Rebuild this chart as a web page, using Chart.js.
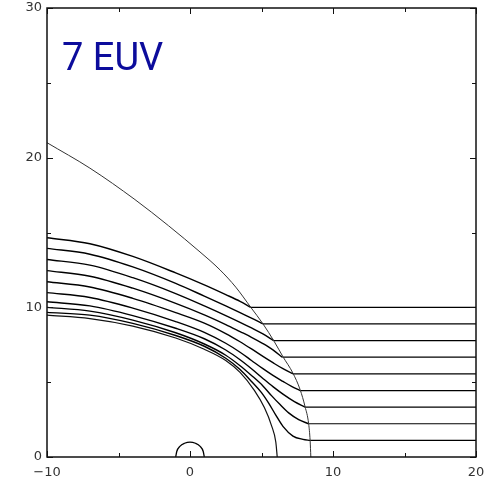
<!DOCTYPE html>
<html>
<head>
<meta charset="utf-8">
<script src="https://cdn.jsdelivr.net/npm/chart.js@4.4.1/dist/chart.umd.min.js"></script>
<style>
  html, body { margin: 0; padding: 0; background: #fff; }
</style>
</head>
<body>
<canvas id="fieldChart" width="485" height="485"></canvas>
<script>
// axis ranges and ticks
const xRange = [-10, 20];
const yRange = [0, 30];
const xTicks = [-10, 0, 10, 20];
const yTicks = [0, 10, 20, 30];
const xMinorTicks = [-5, 5, 15];
const yMinorTicks = [5, 15, 25];

// outer boundary
const outerBoundary = [[-10, 21.0], [-7, 19.3], [-3.85, 17.2], [-1.5, 15.45], [0.7, 13.7], [2.1, 12.5],
  [3.2, 11.35], [4.25, 10.0], [5.1, 8.9], [5.9, 7.7], [6.5, 6.7], [7.2, 5.6], [7.7, 4.5],
  [8.05, 3.35], [8.3, 2.2], [8.4, 1.1], [8.45, 0]];

// inner obstacle surface
const innerBoundary = [[-10, 9.48], [-7, 9.25], [-4, 8.75], [-1, 7.95], [1, 7.2], [2.5, 6.45],
  [3.5, 5.65], [4.5, 4.45], [5.2, 3.3], [5.7, 2.1], [6.0, 1.0], [6.1, 0]];

// small body at the origin
const body = [[-1, 0], [-0.92, 0.38], [-0.71, 0.71], [-0.38, 0.92], [0, 1], [0.38, 0.92],
  [0.71, 0.71], [0.92, 0.38], [1, 0]];

// field lines, curved part up to the boundary (last point = level of the straight tail)
const fieldLine0 = [[-10, 14.65], [-7, 14.25], [-4, 13.4], [-1, 12.3], [1, 11.5], [2.5, 10.85], [3.5, 10.4], [4.25, 10.0]];
const fieldLine1 = [[-10, 13.94], [-7, 13.55], [-4, 12.7], [-1, 11.6], [1, 10.75], [2.5, 10.1], [3.5, 9.65], [4.3, 9.28], [5.1, 8.89]];
const fieldLine2 = [[-10, 13.2], [-7, 12.82], [-4, 11.98], [-1, 10.92], [1, 10.1], [2.5, 9.45], [3.5, 9.0], [4.3, 8.62], [5.1, 8.22], [5.85, 7.78]];
const fieldLine3 = [[-10, 12.45], [-7, 12.08], [-4, 11.28], [-1, 10.27], [1, 9.5], [2.5, 8.85], [3.5, 8.38], [4.3, 8.0], [5.1, 7.58], [5.8, 7.16], [6.45, 6.67]];
const fieldLine4 = [[-10, 11.71], [-7, 11.36], [-4, 10.6], [-1, 9.65], [1, 8.95], [2.5, 8.25], [3.5, 7.7], [4.3, 7.22], [5.1, 6.72], [5.8, 6.3], [6.5, 5.9], [7.2, 5.56]];
const fieldLine5 = [[-10, 10.98], [-7, 10.66], [-4, 9.95], [-1, 9.05], [1, 8.33], [2.5, 7.6], [3.5, 7.0], [4.3, 6.45], [5.1, 5.9], [5.8, 5.45], [6.5, 5.05], [7.1, 4.72], [7.7, 4.44]];
const fieldLine6 = [[-10, 10.37], [-7, 10.1], [-4, 9.45], [-1, 8.6], [1, 7.9], [2.5, 7.15], [3.5, 6.5], [4.3, 5.9], [5.1, 5.25], [5.8, 4.7], [6.5, 4.2], [7.3, 3.7], [8.05, 3.33]];
const fieldLine7 = [[-10, 10.0], [-7, 9.75], [-4, 9.15], [-1, 8.3], [1, 7.55], [2.5, 6.8], [3.5, 6.1], [4.3, 5.45], [5.1, 4.75], [5.7, 4.1], [6.3, 3.5], [6.9, 2.95], [7.6, 2.5], [8.3, 2.22]];
const fieldLine8 = [[-10, 9.66], [-7, 9.48], [-4, 8.93], [-1, 8.12], [1, 7.4], [2.5, 6.6], [3.5, 5.85], [4.3, 5.05], [5.0, 4.3], [5.5, 3.6], [6.0, 2.8], [6.5, 2.05], [7.2, 1.4], [7.9, 1.18], [8.4, 1.11]];

const fieldLines = [fieldLine0, fieldLine1, fieldLine2, fieldLine3, fieldLine4, fieldLine5, fieldLine6, fieldLine7, fieldLine8];

const toXY = arr => arr.map(([x, y]) => ({ x, y }));

function curve(points, width, color) {
  return {
    data: toXY(points),
    showLine: true,
    borderColor: color,
    borderWidth: width,
    pointRadius: 0,
    cubicInterpolationMode: 'monotone',
  };
}

const datasets = [];
datasets.push(curve(outerBoundary, 1, '#333'));
datasets.push(curve(innerBoundary, 1.2, '#111'));
datasets.push(curve(body, 1.3, '#000'));
fieldLines.forEach(line => {
  datasets.push(curve(line, 1.4, '#000'));
  // straight tail from the boundary out to the right edge
  const [xb, level] = line[line.length - 1];
  datasets.push({
    data: toXY([[xb, level], [xRange[1], level]]),
    showLine: true,
    borderColor: '#000',
    borderWidth: 1.2,
    pointRadius: 0,
  });
});

// frame, inward tick marks and the label in the corner
const framePlugin = {
  id: 'framePlugin',
  afterDatasetsDraw(chart) {
    const { ctx, chartArea: a, scales: { x, y } } = chart;
    ctx.save();
    ctx.strokeStyle = '#111';
    ctx.lineWidth = 1.5;
    ctx.strokeRect(a.left, a.top, a.width, a.height);

    ctx.lineWidth = 1;
    ctx.beginPath();
    const xTick = (v, len) => {
      const px = Math.round(x.getPixelForValue(v)) + 0.5;
      ctx.moveTo(px, a.bottom); ctx.lineTo(px, a.bottom - len);
      ctx.moveTo(px, a.top); ctx.lineTo(px, a.top + len);
    };
    const yTick = (v, len) => {
      const py = Math.round(y.getPixelForValue(v)) + 0.5;
      ctx.moveTo(a.left, py); ctx.lineTo(a.left + len, py);
      ctx.moveTo(a.right, py); ctx.lineTo(a.right - len, py);
    };
    xTicks.forEach(v => xTick(v, 6));
    xMinorTicks.forEach(v => xTick(v, 4));
    yTicks.forEach(v => yTick(v, 6));
    yMinorTicks.forEach(v => yTick(v, 4));
    ctx.stroke();

    ctx.fillStyle = '#0c0c9c';
    ctx.font = '38px Roboto, "DejaVu Sans", sans-serif';
    ctx.textBaseline = 'alphabetic';
    ctx.fillText('7 EUV', 62, 70);
    ctx.restore();
  }
};

const tickFont = { family: '"DejaVu Sans", sans-serif', size: 13 };

new Chart(document.getElementById('fieldChart'), {
  type: 'scatter',
  data: { datasets },
  options: {
    responsive: false,
    animation: false,
    layout: { padding: { top: 8, right: 9, left: 0, bottom: 0 } },
    plugins: { legend: { display: false }, tooltip: { enabled: false } },
    scales: {
      x: {
        type: 'linear',
        min: xRange[0],
        max: xRange[1],
        afterBuildTicks: s => { s.ticks = xTicks.map(value => ({ value })); },
        afterFit: s => { s.height = 28; s.paddingLeft = 0; s.paddingRight = 0; },
        grid: { display: false, drawTicks: false },
        border: { display: false },
        ticks: {
          padding: 8,
          color: '#333',
          font: tickFont,
          maxRotation: 0,
          callback: v => (v < 0 ? '\u2212' + Math.abs(v) : String(v)),
        },
      },
      y: {
        type: 'linear',
        min: yRange[0],
        max: yRange[1],
        afterBuildTicks: s => { s.ticks = yTicks.map(value => ({ value })); },
        afterFit: s => { s.width = 47; s.paddingTop = 0; s.paddingBottom = 0; },
        grid: { display: false, drawTicks: false },
        border: { display: false },
        ticks: { padding: 5, color: '#333', font: tickFont },
      },
    },
  },
  plugins: [framePlugin],
});
</script>
</body>
</html>
